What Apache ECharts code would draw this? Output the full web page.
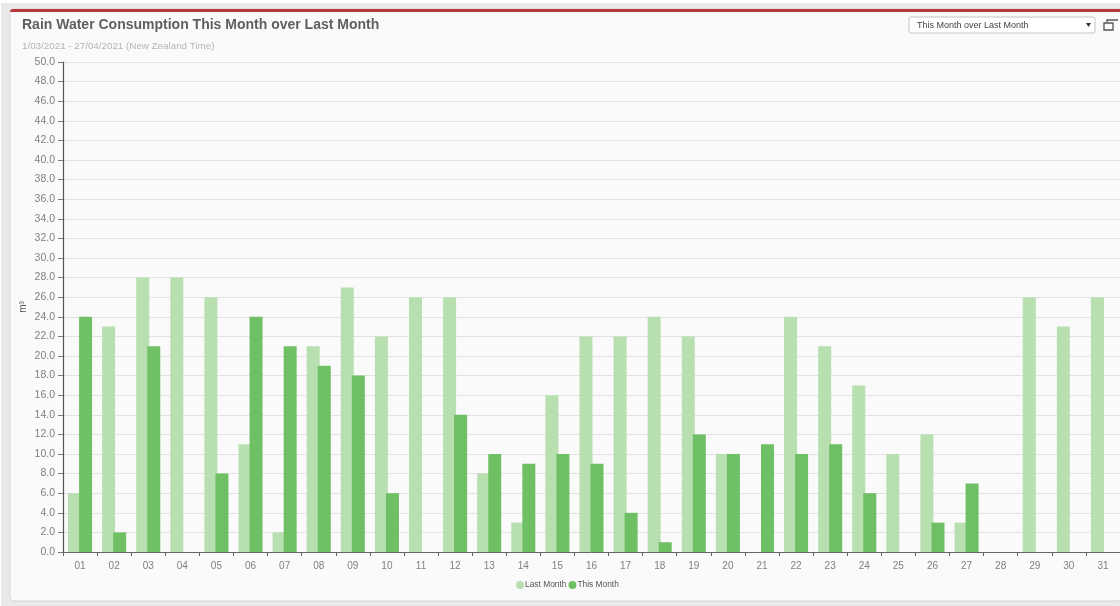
<!DOCTYPE html>
<html>
<head>
<meta charset="utf-8">
<style>
html,body{margin:0;padding:0;background:#fff}
#chart{width:1120px;height:606px}
</style>
<script src="https://cdn.jsdelivr.net/npm/echarts@6/dist/echarts.min.js"></script>
</head>
<body>
<div id="chart"></div>
<script>
const days = ['01','02','03','04','05','06','07','08','09','10','11','12','13','14','15','16','17','18','19','20','21','22','23','24','25','26','27','28','29','30','31'];
const lastMonth = [6,23,28,28,26,11,2,21,27,22,26,26,8,3,16,22,22,24,22,10,0,24,21,17,10,12,3,0,26,23,26];
const thisMonth = [24,2,21,0,8,24,21,19,18,6,0,14,10,9,10,9,4,1,12,10,11,10,11,6,0,3,7,0,0,0,0];
const font = '"Liberation Sans", Arial, sans-serif';

const chart = echarts.init(document.getElementById('chart'), null, {renderer: 'canvas'});
chart.setOption({
  animation: false,
  backgroundColor: '#ffffff',
  textStyle: {fontFamily: font},
  title: [
    {text: 'Rain Water Consumption This Month over Last Month', left: 17, top: 13,
     textStyle: {fontSize: 14, fontWeight: 'bold', color: '#5f5f5f', fontFamily: font}},
    {text: '1/03/2021 - 27/04/2021 (New Zealand Time)', left: 17, top: 36,
     textStyle: {fontSize: 9.8, fontWeight: 'normal', color: '#b4b4b4', fontFamily: font}}
  ],
  legend: {
    bottom: 17, left: 516, icon: 'circle', itemWidth: 8, itemHeight: 8, itemGap: 2,
    padding: 0,
    textStyle: {fontSize: 8.4, color: '#555', padding: [0, 0, 0, -4]},
    data: ['Last Month', 'This Month']
  },
  grid: {left: 63, right: 0, top: 62, bottom: 54},
  xAxis: {
    type: 'category', data: days,
    axisLine: {lineStyle: {color: '#666', width: 1}},
    axisTick: {show: true, length: 4, alignWithLabel: false, lineStyle: {color: '#666'}},
    axisLabel: {fontSize: 10, color: '#808080', margin: 9, interval: 0},
    splitLine: {show: false}
  },
  yAxis: {
    type: 'value', min: 0, max: 50, interval: 2,
    name: 'm³', nameLocation: 'middle', nameGap: 35, nameRotate: 90, nameMoveOverlap: false,
    nameTextStyle: {fontSize: 10, color: '#555'},
    axisLine: {show: true, lineStyle: {color: '#555', width: 1.2}},
    axisTick: {show: true, length: 5, lineStyle: {color: '#777'}},
    axisLabel: {fontSize: 10.5, color: '#808080', margin: 8, formatter: v => v.toFixed(1)},
    splitLine: {lineStyle: {color: '#e2e2e2', width: 1}}
  },
  series: [
    {name: 'Last Month', type: 'bar', data: lastMonth, barWidth: 13, barGap: '-15%',
     itemStyle: {color: '#b7dfb0'}},
    {name: 'This Month', type: 'bar', data: thisMonth, barWidth: 13,
     itemStyle: {color: '#6fc064'}}
  ],
  graphic: [
    {type: 'rect', silent: true, z: -10, shape: {x: 1, y: 3, width: 1119, height: 603},
     style: {fill: '#e9e9e9'}},
    {type: 'rect', silent: true, z: -9, shape: {x: 10, y: 9, width: 1112, height: 592, r: 4},
     style: {fill: '#fafafa', stroke: '#d4d4d4', lineWidth: 1}},
    {type: 'rect', silent: true, z: -8, shape: {x: 10, y: 9, width: 1112, height: 3, r: [3, 3, 0, 0]},
     style: {fill: '#b8383c'}},
    {type: 'rect', silent: true, z: 5, shape: {x: 909, y: 17, width: 186, height: 16, r: 2},
     style: {fill: '#ffffff', stroke: '#c4c4c4', lineWidth: 1}},
    {type: 'text', silent: true, z: 6, x: 917, y: 21,
     style: {text: 'This Month over Last Month', fontSize: 9, fill: '#444', fontFamily: font}},
    {type: 'polygon', silent: true, z: 6, shape: {points: [[1086, 23], [1091, 23], [1088.5, 27]]},
     style: {fill: '#333'}},
    {type: 'rect', silent: true, z: 6, shape: {x: 1104, y: 23, width: 9, height: 7},
     style: {fill: 'none', stroke: '#555', lineWidth: 1.3}},
    {type: 'polyline', silent: true, z: 6, shape: {points: [[1107, 22], [1107, 20], [1118, 20]]},
     style: {fill: 'none', stroke: '#555', lineWidth: 1.3}}
  ]
});
</script>
</body>
</html>
